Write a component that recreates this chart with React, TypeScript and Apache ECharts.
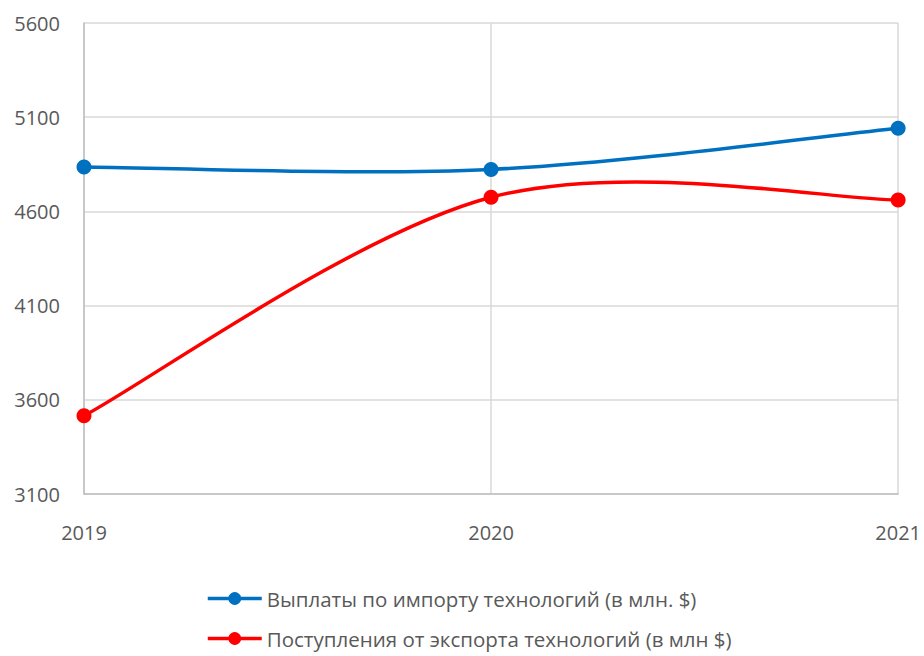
import React, { useEffect, useRef } from "react";
import * as echarts from "echarts";

const years = ["2019", "2020", "2021"];
const importPayments = [4836, 4823, 5041];
const exportReceipts = [3515, 4675, 4660];
const importName = "Выплаты по импорту технологий (в млн. $)";
const exportName = "Поступления от экспорта технологий (в млн $)";

const BLUE = "#0070c0";
const RED = "#ff0000";

function smoothRenderer(values: number[], color: string) {
  return (params: any, api: any) => {
    const i = params.dataIndex;
    const n = values.length;
    if (i >= n - 1) return null;
    const p = (k: number) => {
      const kk = Math.max(0, Math.min(n - 1, k));
      return api.coord([kk, values[kk]]);
    };
    const p0 = p(i - 1);
    const p1 = p(i);
    const p2 = p(i + 1);
    const p3 = p(i + 2);
    const t = 1 / 6;
    return {
      type: "bezierCurve",
      shape: {
        x1: p1[0],
        y1: p1[1],
        x2: p2[0],
        y2: p2[1],
        cpx1: p1[0] + (p2[0] - p0[0]) * t,
        cpy1: p1[1] + (p2[1] - p0[1]) * t,
        cpx2: p2[0] - (p3[0] - p1[0]) * t,
        cpy2: p2[1] - (p3[1] - p1[1]) * t,
      },
      style: { stroke: color, lineWidth: 3.5, fill: null, lineCap: "round" },
      silent: true,
    };
  };
}

export default function App() {
  const ref = useRef<HTMLDivElement>(null);
  useEffect(() => {
    if (!ref.current) return;
    const chart = echarts.init(ref.current, undefined, { renderer: "svg" });
    const font = "'Open Sans', 'Liberation Sans', sans-serif";
    const legendBase = {
      left: 206,
      padding: 0,
      itemWidth: 54,
      itemHeight: 16,
      textStyle: { color: "#595959", fontSize: 20.5, fontFamily: font },
      lineStyle: { opacity: 1, width: 3.5 },
    };
    chart.setOption({
      animation: false,
      textStyle: { fontFamily: font },
      grid: { left: 84, right: 25, top: 23, bottom: 162 },
      xAxis: {
        type: "category",
        data: years,
        boundaryGap: false,
        axisLine: { lineStyle: { color: "#bfbfbf", width: 1.5 } },
        axisTick: { show: false },
        axisLabel: { color: "#595959", fontSize: 20, margin: 28, fontFamily: font },
        splitLine: { show: true, lineStyle: { color: "#d9d9d9", width: 1.5 } },
      },
      yAxis: {
        type: "value",
        min: 3100,
        max: 5600,
        interval: 500,
        axisLine: { show: true, lineStyle: { color: "#bfbfbf", width: 1.5 } },
        axisTick: { show: false },
        axisLabel: {
          color: "#595959",
          fontSize: 20,
          margin: 24,
          fontFamily: font,
          formatter: (v: number) => String(v),
        },
        splitLine: { lineStyle: { color: "#d9d9d9", width: 1.5 } },
      },
      legend: [
        { ...legendBase, top: 588, data: [importName] },
        { ...legendBase, top: 628, data: [exportName] },
      ],
      series: [
        {
          type: "custom",
          id: "importCurve",
          renderItem: smoothRenderer(importPayments, BLUE),
          data: importPayments.map((v, i) => [i, v]),
          z: 2,
          silent: true,
        },
        {
          type: "custom",
          id: "exportCurve",
          renderItem: smoothRenderer(exportReceipts, RED),
          data: exportReceipts.map((v, i) => [i, v]),
          z: 2,
          silent: true,
        },
        {
          name: importName,
          type: "line",
          data: importPayments,
          symbol: "circle",
          symbolSize: 15,
          itemStyle: { color: BLUE },
          lineStyle: { color: BLUE, width: 3.5, opacity: 0 },
          z: 3,
        },
        {
          name: exportName,
          type: "line",
          data: exportReceipts,
          symbol: "circle",
          symbolSize: 15,
          itemStyle: { color: RED },
          lineStyle: { color: RED, width: 3.5, opacity: 0 },
          z: 3,
        },
      ],
    });
    return () => chart.dispose();
  }, []);
  return <div ref={ref} style={{ width: 924, height: 656, position: "absolute", left: 0, top: 0 }} />;
}
